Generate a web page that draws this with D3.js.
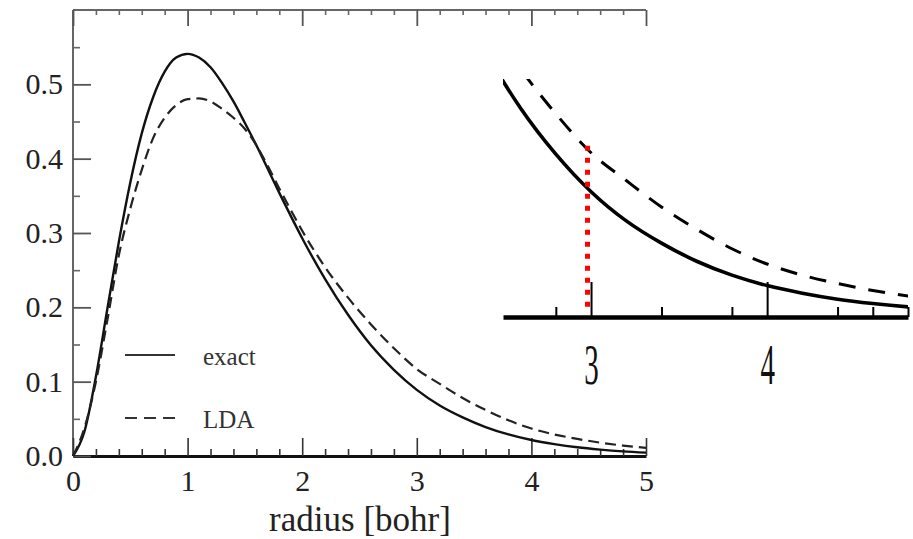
<!DOCTYPE html>
<html>
<head>
<meta charset="utf-8">
<script src="https://cdn.jsdelivr.net/npm/d3@7"></script>
<style>
    html, body { margin: 0; padding: 0; background: #fff; }
    svg text { font-family: "Liberation Serif", "DejaVu Serif", serif; }
</style>
</head>
<body>
<div id="chart-container" style="width:913px;height:539px;"></div>
<script>
// radius grid [bohr]
const radius = [0, 0.1, 0.2, 0.3, 0.4, 0.5, 0.6, 0.7, 0.8, 0.9, 1.0, 1.1, 1.2, 1.3, 1.4, 1.5, 1.6, 1.7, 1.8, 1.9, 2.0,
    2.2, 2.4, 2.6, 2.8, 3.0, 3.2, 3.4, 3.6, 3.8, 4.0, 4.2, 4.4, 4.6, 4.8, 5.0];

const exactDensity = [0, 0.033, 0.107, 0.198, 0.288, 0.368, 0.434, 0.483, 0.517, 0.536, 0.541, 0.536, 0.523, 0.502, 0.477, 0.448, 0.418, 0.386, 0.354, 0.323, 0.293,
    0.238, 0.190, 0.149, 0.116, 0.089, 0.068, 0.052, 0.039, 0.029, 0.0215, 0.016, 0.0117, 0.0086, 0.0062, 0.0045];

const ldaDensity = [0, 0.038, 0.100, 0.183, 0.270, 0.333, 0.385, 0.428, 0.455, 0.472, 0.480, 0.481, 0.477, 0.467, 0.455, 0.440, 0.418, 0.390, 0.360, 0.331, 0.303,
    0.254, 0.213, 0.177, 0.145, 0.117, 0.097, 0.078, 0.062, 0.048, 0.037, 0.029, 0.023, 0.018, 0.014, 0.011];

const legendLabels = ['exact', 'LDA'];

// main axes ticks
const xMajorTicks = [0, 1, 2, 3, 4, 5];
const yMajorTicks = [0, 0.1, 0.2, 0.3, 0.4, 0.5];

// inset (zoom of the tail)
const insetMajorTicks = [3, 4];
const insetMinorTicks = [2.8, 3.4, 3.8, 4.4, 4.6, 4.8];
const markerRadius = 2.98;
const markerTop = 0.122;

document.addEventListener('DOMContentLoaded', function () {
    const container = document.getElementById('chart-container');
    const svg = d3.select(container).append('svg')
        .attr('width', 913)
        .attr('height', 539);

    const exactPts = radius.map((r, i) => [r, exactDensity[i]]);
    const ldaPts = radius.map((r, i) => [r, ldaDensity[i]]);

    // 1. Main plot
    const x = d3.scaleLinear().domain([0, 5]).range([73, 646]);
    const y = d3.scaleLinear().domain([0, 0.6]).range([456, 10]);

    const line = d3.line()
        .x(d => x(d[0]))
        .y(d => y(d[1]))
        .curve(d3.curveMonotoneX);

    const xMinor = d3.range(0, 5.01, 0.2).filter(v => Math.abs(v - Math.round(v)) > 0.01);
    const yMinor = d3.range(0.05, 0.6, 0.1);

    // frame (top + left) - no right spine
    svg.append('line').attr('x1', x(0)).attr('x2', x(5)).attr('y1', y(0.6)).attr('y2', y(0.6))
        .attr('stroke', '#666').attr('stroke-width', 2);
    svg.append('line').attr('x1', x(0)).attr('x2', x(0)).attr('y1', y(0)).attr('y2', y(0.6))
        .attr('stroke', '#666').attr('stroke-width', 2);

    // bottom axis (major with labels, minor in own group)
    const gBottom = svg.append('g').attr('transform', `translate(0,${y(0)})`)
        .call(d3.axisBottom(x).tickValues(xMajorTicks).tickSize(-18).tickSizeOuter(0).tickPadding(14)
            .tickFormat(d3.format('d')));
    const gBottomMinor = svg.append('g').attr('transform', `translate(0,${y(0)})`)
        .call(d3.axisBottom(x).tickValues(xMinor).tickSize(-7).tickSizeOuter(0).tickFormat(''));
    gBottomMinor.select('.domain').remove();
    gBottom.select('.domain').attr('stroke', '#111').attr('stroke-width', 3);
    svg.selectAll('g .tick line').attr('stroke', '#333').attr('stroke-width', 1.6);
    gBottom.selectAll('.tick text').attr('font-size', '30px').attr('fill', '#222')
        .attr('font-family', '"Liberation Serif", serif');

    // top axis, ticks only
    const gTop = svg.append('g').attr('transform', `translate(0,${y(0.6)})`)
        .call(d3.axisTop(x).tickValues(xMajorTicks).tickSize(-16).tickSizeOuter(0).tickFormat(''));
    const gTopMinor = svg.append('g').attr('transform', `translate(0,${y(0.6)})`)
        .call(d3.axisTop(x).tickValues(xMinor).tickSize(-5).tickSizeOuter(0).tickFormat(''));
    gTop.select('.domain').remove();
    gTopMinor.select('.domain').remove();
    gTop.selectAll('.tick line').attr('stroke', '#555').attr('stroke-width', 1.8);
    gTopMinor.selectAll('.tick line').attr('stroke', '#666').attr('stroke-width', 1.6);

    // left axis
    const gLeft = svg.append('g').attr('transform', `translate(${x(0)},0)`)
        .call(d3.axisLeft(y).tickValues(yMajorTicks).tickSize(-18).tickSizeOuter(0).tickPadding(10)
            .tickFormat(d3.format('.1f')));
    const gLeftMinor = svg.append('g').attr('transform', `translate(${x(0)},0)`)
        .call(d3.axisLeft(y).tickValues(yMinor).tickSize(-7).tickSizeOuter(0).tickFormat(''));
    gLeft.select('.domain').remove();
    gLeftMinor.select('.domain').remove();
    gLeft.selectAll('.tick line').attr('stroke', '#555').attr('stroke-width', 1.8);
    gLeftMinor.selectAll('.tick line').attr('stroke', '#666').attr('stroke-width', 1.6);
    gLeft.selectAll('.tick text').attr('font-size', '30px').attr('fill', '#222')
        .attr('font-family', '"Liberation Serif", serif');

    // axis title
    svg.append('text')
        .attr('x', 360)
        .attr('y', 531)
        .attr('text-anchor', 'middle')
        .attr('font-size', '35px')
        .attr('fill', '#222')
        .text('radius [bohr]');

    // curves
    svg.append('path').datum(exactPts)
        .attr('d', line).attr('fill', 'none')
        .attr('stroke', '#111').attr('stroke-width', 2.4);
    svg.append('path').datum(ldaPts)
        .attr('d', line).attr('fill', 'none')
        .attr('stroke', '#222').attr('stroke-width', 2.2)
        .attr('stroke-dasharray', '11,6');

    // legend
    const legend = svg.append('g');
    legendLabels.forEach((label, i) => {
        const ly = 355 + i * 63;
        legend.append('line')
            .attr('x1', 125).attr('x2', 175).attr('y1', ly).attr('y2', ly)
            .attr('stroke', '#333').attr('stroke-width', 2)
            .attr('stroke-dasharray', i === 0 ? null : '12,7');
        legend.append('text')
            .attr('x', 203).attr('y', ly + 10)
            .attr('font-size', '25px')
            .attr('fill', '#333')
            .text(label);
    });

    // 2. Inset
    const xi = d3.scaleLinear().domain([2.5, 4.8]).range([503, 908]);
    const yi = d3.scaleLinear().domain([0, 0.17]).range([315.5, 79]);

    const inset = svg.append('g');
    inset.append('rect')
        .attr('x', 498).attr('y', 40).attr('width', 415).attr('height', 360)
        .attr('fill', '#fff');

    svg.append('clipPath').attr('id', 'inset-clip')
        .append('rect').attr('x', xi(2.5)).attr('y', yi(0.17)).attr('width', xi(4.8) - xi(2.5)).attr('height', yi(0) - yi(0.17) + 6);

    const insetLine = d3.line()
        .x(d => xi(d[0]))
        .y(d => yi(d[1]))
        .curve(d3.curveMonotoneX);

    const curves = inset.append('g').attr('clip-path', 'url(#inset-clip)');
    curves.append('path').datum(exactPts)
        .attr('d', insetLine).attr('fill', 'none')
        .attr('stroke', '#000').attr('stroke-width', 3.6);
    curves.append('path').datum(ldaPts)
        .attr('d', insetLine).attr('fill', 'none')
        .attr('stroke', '#000').attr('stroke-width', 3)
        .attr('stroke-dasharray', '17,13');

    const gInset = inset.append('g').attr('transform', `translate(0,${yi(0) + 1.5})`)
        .call(d3.axisBottom(xi).tickValues(insetMajorTicks).tickSize(-35).tickSizeOuter(0).tickPadding(26)
            .tickFormat(d3.format('d')));
    const gInsetMinor = inset.append('g').attr('transform', `translate(0,${yi(0) + 1.5})`)
        .call(d3.axisBottom(xi).tickValues(insetMinorTicks).tickSize(-10).tickSizeOuter(0).tickFormat(''));
    gInsetMinor.select('.domain').remove();
    gInset.select('.domain').attr('stroke', '#000').attr('stroke-width', 4.5);
    inset.selectAll('.tick line').attr('stroke', '#000').attr('stroke-width', 2);
    gInset.selectAll('.tick text')
        .attr('font-size', '58px')
        .attr('fill', '#111')
        .attr('font-family', '"Liberation Serif", serif')
        .attr('transform', 'scale(0.5,1)');

    // red dotted marker
    inset.append('line')
        .attr('x1', xi(markerRadius)).attr('x2', xi(markerRadius))
        .attr('y1', yi(markerTop)).attr('y2', yi(0) - 2)
        .attr('stroke', '#ff0000')
        .attr('stroke-width', 5)
        .attr('stroke-dasharray', '5,7');
});
</script>
</body>
</html>
